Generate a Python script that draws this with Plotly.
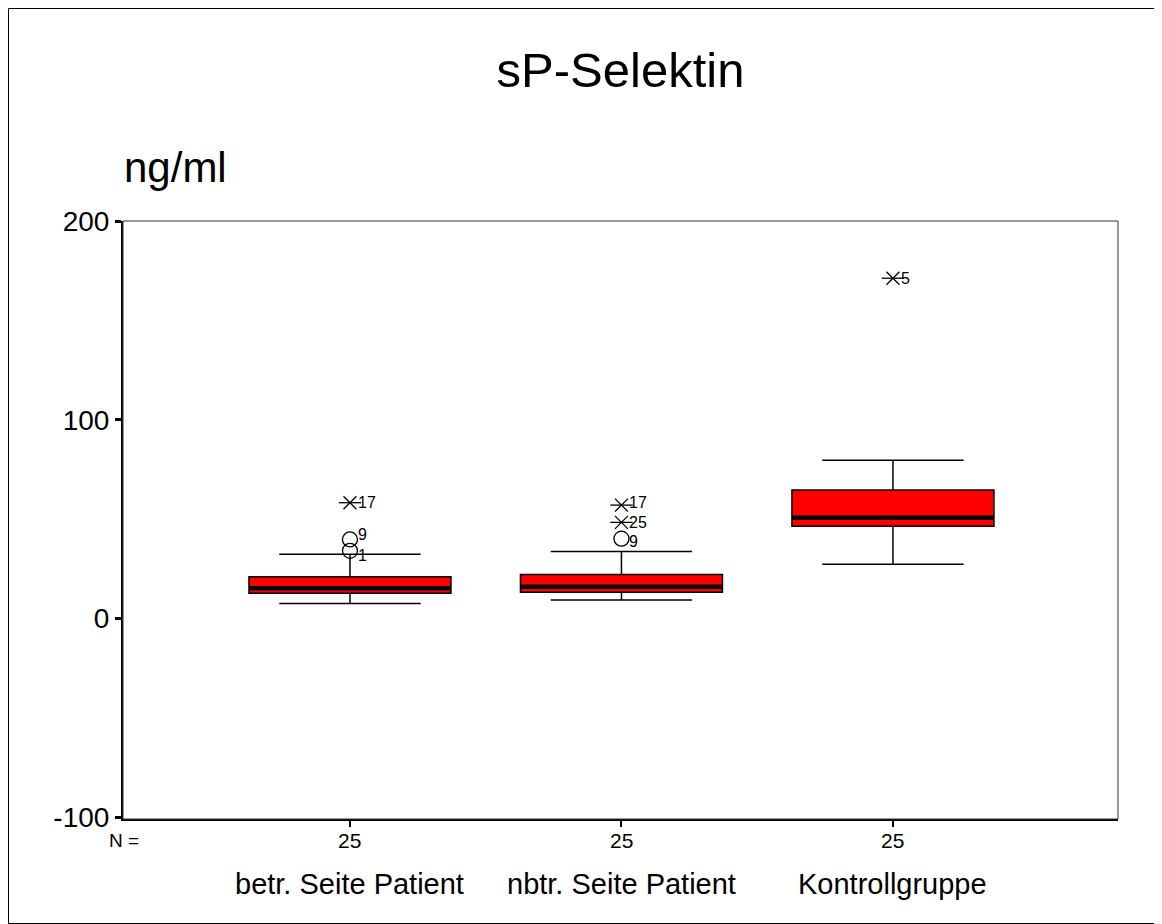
import plotly.graph_objects as go

categories = ["betr. Seite Patient", "nbtr. Seite Patient", "Kontrollgruppe"]
n_values = [25, 25, 25]
q1 = [12.7, 13.2, 46.5]
median = [15.2, 16.0, 50.7]
q3 = [21.0, 22.2, 64.7]
lower_whisker = [7.6, 9.3, 27.3]
upper_whisker = [32.3, 33.8, 79.7]

# outliers (circles): group index, value, case label
outlier_group = [0, 0, 1]
outlier_value = [39.8, 34.1, 40.2]
outlier_label = ["9", "1", "9"]

# extremes (stars): group index, value, case label
extreme_group = [0, 1, 1, 2]
extreme_value = [58.3, 57.1, 48.4, 171.3]
extreme_label = ["17", "17", "25", "5"]

# small vertical nudges (px) so crowded case labels stay readable
outlier_label_shift = [5, -5, -3]
extreme_label_shift = [0, 3, 0, 0]

FONT = "Liberation Sans, Arial, sans-serif"
# page body has an 8px margin; figure is sized to fit the 1162x924 window
W, H = 1154, 916
L, R, T, B = 115, 44, 213, 105
BOX_W = 0.744
pw, ph = W - L - R, H - T - B


def py(px):
    """pixel row in the window -> paper y"""
    return (T + ph + 8 - px) / ph


def px_(x):
    """pixel column in the window -> paper x"""
    return (x - 8 - L) / pw


fig = go.Figure()

for i in range(len(categories)):
    fig.add_trace(go.Box(
        x=[i], q1=[q1[i]], median=[median[i]], q3=[q3[i]],
        lowerfence=[lower_whisker[i]], upperfence=[upper_whisker[i]],
        width=BOX_W, whiskerwidth=0.70, boxpoints=False,
        fillcolor="#ff0000", line=dict(color="black", width=1.5),
        showlegend=False, hoverinfo="skip",
    ))
    fig.add_trace(go.Scatter(
        x=[i - BOX_W / 2, i + BOX_W / 2], y=[median[i], median[i]],
        mode="lines", line=dict(color="black", width=4.5),
        showlegend=False, hoverinfo="skip",
    ))

fig.add_trace(go.Scatter(
    x=outlier_group, y=outlier_value, mode="markers",
    marker=dict(symbol="circle-open", size=15, color="black", line=dict(width=1.3)),
    showlegend=False, hoverinfo="skip",
))
fig.add_trace(go.Scatter(
    x=extreme_group, y=extreme_value, mode="markers",
    marker=dict(symbol="x-thin-open", size=13, color="black", line=dict(width=1.3, color="black")),
    showlegend=False, hoverinfo="skip",
))
fig.add_trace(go.Scatter(
    x=extreme_group, y=extreme_value, mode="markers",
    marker=dict(symbol="line-ew-open", size=16, color="black", line=dict(width=1.3, color="black")),
    showlegend=False, hoverinfo="skip",
))

annotations = []
for g, v, lab, s in list(zip(outlier_group, outlier_value, outlier_label, outlier_label_shift)) + \
        list(zip(extreme_group, extreme_value, extreme_label, extreme_label_shift)):
    annotations.append(dict(
        x=g, xref="x", y=v, yref="y", text=lab, showarrow=False,
        xanchor="left", yanchor="middle", xshift=7, yshift=s, borderpad=0,
        font=dict(family=FONT, size=16, color="black"),
    ))

for i, (c, n) in enumerate(zip(categories, n_values)):
    annotations.append(dict(
        x=i, xref="x", y=py(884), yref="paper", text=c,
        showarrow=False, xanchor="center", yanchor="middle",
        font=dict(family=FONT, size=29, color="black"),
    ))
    annotations.append(dict(
        x=i, xref="x", y=py(840), yref="paper", text=str(n),
        showarrow=False, xanchor="center", yanchor="middle",
        font=dict(family=FONT, size=21, color="black"),
    ))
annotations.append(dict(
    x=px_(124), xref="paper", y=py(840), yref="paper",
    text="N =", showarrow=False, xanchor="center", yanchor="middle",
    font=dict(family=FONT, size=19, color="black"),
))
annotations.append(dict(
    x=px_(122), xref="paper", y=py(167), yref="paper",
    text="ng/ml", showarrow=False, xanchor="left", yanchor="middle",
    font=dict(family=FONT, size=42, color="black"),
))

shapes = [
    dict(type="rect", xref="paper", yref="paper", x0=0, x1=1, y0=0, y1=1,
         line=dict(color="#333333", width=1), layer="above"),
    dict(type="rect", xref="paper", yref="paper",
         x0=(0.5 - L) / pw, x1=(W - 0.5 - L) / pw,
         y0=-(B - 0.5) / ph, y1=1 + (T - 0.5) / ph,
         line=dict(color="black", width=1)),
]

fig.update_layout(
    width=W, height=H,
    margin=dict(l=L, r=R, t=T, b=B),
    paper_bgcolor="white", plot_bgcolor="white",
    title=dict(text="sP-Selektin", x=0.5, xref="paper", xanchor="center",
               y=1 - (70 - 8) / H, yref="container", yanchor="middle",
               font=dict(family=FONT, size=49, color="black")),
    font=dict(family=FONT, color="black"),
    xaxis=dict(range=[-0.836, 2.829], tickmode="array", tickvals=list(range(len(categories))),
               ticktext=["" for _ in n_values], ticks="outside", ticklen=6, tickwidth=2,
               tickcolor="black", showline=True, linecolor="black", linewidth=2,
               showgrid=False, zeroline=False, tickfont=dict(family=FONT, size=21, color="black")),
    yaxis=dict(range=[-100.9, 200.1], tickmode="array", tickvals=[-100, 0, 100, 200],
               ticktext=["-100", "0", "100", "200"], ticks="outside", ticklen=6, tickwidth=3,
               tickcolor="black", showline=True, linecolor="black", linewidth=2,
               showgrid=False, zeroline=False, tickfont=dict(family=FONT, size=28, color="black")),
    annotations=annotations, shapes=shapes, showlegend=False,
)

fig.write_html("out.html")
